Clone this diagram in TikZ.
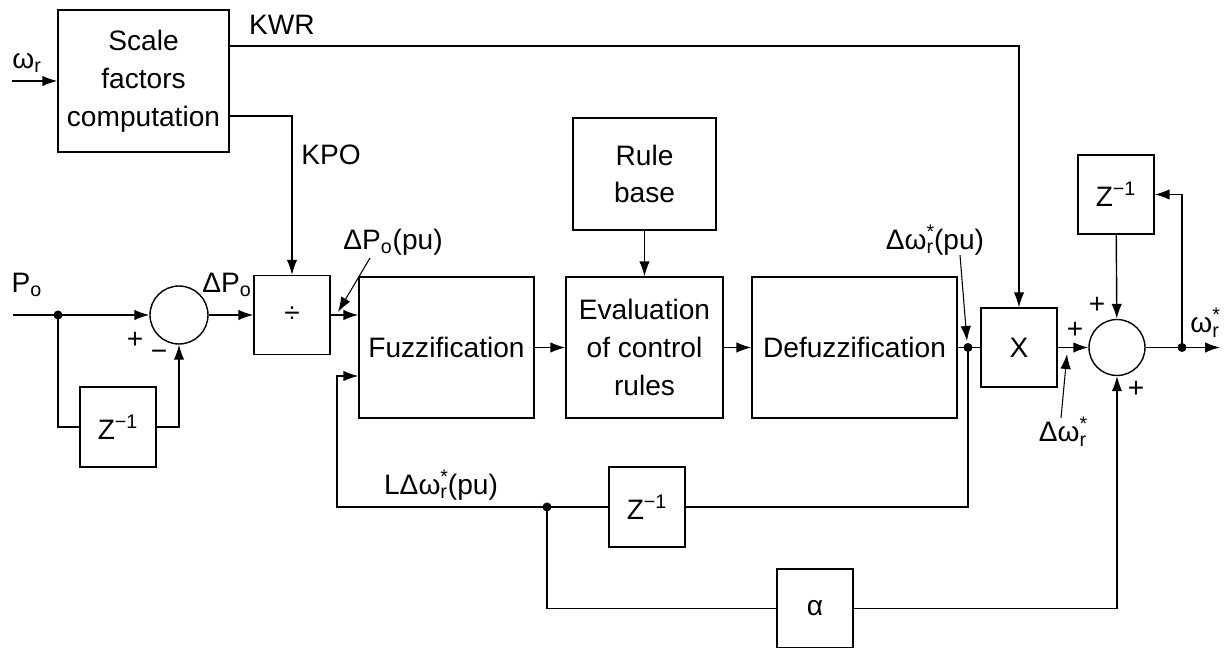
\documentclass[tikz,border=0pt]{standalone}
\usepackage{fontspec}
\setmainfont{Liberation Sans}
\usetikzlibrary{arrows.meta}
\newcommand{\omr}{ω\textsubscript{r}}
\newcommand{\omrs}{ω\rlap{\textsuperscript{*}}\textsubscript{r}}
\newcommand{\zinv}{Z\textsuperscript{−1}}
\tikzset{
  blk/.style={draw,line width=0.8pt,align=center,inner sep=0pt},
  sumc/.style={draw,circle,line width=0.8pt,inner sep=0pt},
  lbl/.style={inner sep=0pt},
}

\begin{document}
\begin{tikzpicture}[x=0.02cm,y=-0.02cm,line width=0.8pt,>={Latex[length=3mm,width=2.1mm]},font=\fontsize{16}{21.5}\selectfont]
  \useasboundingbox (0,0) rectangle (1225,648);
  % ---- blocks ----
  \node[blk,minimum width=3.42cm,minimum height=2.84cm] (scale) at (143.5,81) {Scale\\factors\\computation};
  \node[sumc,minimum size=1.16cm] (sum1) at (179,315) {};
  \node[blk,minimum width=1.52cm,minimum height=1.6cm] (zl) at (118,427) {\zinv};
  \node[blk,minimum width=1.52cm,minimum height=1.58cm] (div) at (292,315) {÷};
  \node[blk,minimum width=3.5cm,minimum height=2.82cm] (fuzz) at (446.5,347.5) {Fuzzification};
  \node[blk,minimum width=2.86cm,minimum height=2.24cm] (rule) at (644.5,174) {Rule\\base};
  \node[blk,minimum width=3.14cm,minimum height=2.82cm] (eval) at (644.5,347.5) {Evaluation\\of control\\rules};
  \node[blk,minimum width=4.1cm,minimum height=2.82cm] (defuzz) at (854.5,347.5) {Defuzzification};
  \node[blk,minimum width=1.52cm,minimum height=1.58cm] (mult) at (1019,347.5) {X};
  \node[sumc,minimum size=1.12cm] (sum2) at (1117,347.5) {};
  \node[blk,minimum width=1.52cm,minimum height=1.58cm] (zr) at (1116,194.5) {\zinv};
  \node[blk,minimum width=1.52cm,minimum height=1.6cm] (zb) at (647,507) {\zinv};
  \node[blk,minimum width=1.52cm,minimum height=1.58cm] (alpha) at (815,608.5) {α};

  % ---- points ----
  \coordinate (win) at (12,81);
  \coordinate (kwr) at (229,46);
  \coordinate (kpo) at (229,116);
  \coordinate (pin) at (13,315);
  \coordinate (j1) at (58,315);
  \coordinate (j2) at (968,347.5);
  \coordinate (j3) at (1182,347.5);
  \coordinate (out) at (1220,347.5);
  \coordinate (j4) at (547,507);
  \coordinate (fb) at (337,507);

  % ---- scale factors ----
  \draw[->] (win) -- (scale.west);
  \draw[->] (kwr) -| (mult.north);
  \draw[->] (kpo) -| (div.north);

  % ---- input side ----
  \draw (pin) -- (j1);
  \draw[->] (j1) -- (sum1.west);
  \draw (j1) |- (zl.west);
  \draw[->] (zl.east) -| (sum1.south);
  \draw[->] (sum1.east) -- (div.west);
  \draw[->] (div.east) -- (fuzz.west |- div.east);

  % ---- fuzzy controller ----
  \draw[->] (fuzz) -- (eval);
  \draw[->] (rule) -- (eval);
  \draw[->] (eval) -- (defuzz);
  \draw (defuzz) -- (j2) -- (mult);

  % ---- output side ----
  \draw[->] (mult) -- (sum2);
  \draw (sum2) -- (j3);
  \draw[->] (j3) -- (out);
  \draw[->] (j3) |- (zr.east);
  \draw[->] (zr) -- (sum2);

  % ---- feedback loops ----
  \draw (j2) |- (zb.east);
  \draw (zb.west) -- (j4);
  \draw[->] (j4) -- (fb) |- ([yshift=-0.57cm]fuzz.west);
  \draw (j4) |- (alpha.west);
  \draw[->] (alpha.east) -| (sum2.south);

  \foreach \p in {j1,j2,j3,j4}{
    \fill (\p) circle (4.5);
  }

  % ---- labels ----
  \node[lbl] (lwr) at (27,63) {\omr};
  \node[lbl] (lkwr) at (282,25) {KWR};
  \node[lbl] (lkpo) at (331,155) {KPO};
  \node[lbl] (lpo) at (27,285) {P\textsubscript{o}};
  \node[lbl] (ldpo) at (227,285) {ΔP\textsubscript{o}};
  \node[lbl] (ldpopu) at (393,242) {ΔP\textsubscript{o}(pu)};
  \node[lbl] (ldw) at (935,240) {Δ\omrs(pu)};
  \node[lbl] (ldwo) at (1063,432) {Δ\omrs};
  \node[lbl] (lwout) at (1205,323) {\omrs};
  \node[lbl] (lldw) at (441,485) {LΔ\omrs(pu)};
  \node[lbl] (sp1) at (135,340) {+};
  \node[lbl] (sm1) at (159,355) {−};
  \node[lbl] (sp2) at (1097,305) {+};
  \node[lbl] (sp3) at (1075,330) {+};
  \node[lbl] (sp4) at (1136,389) {+};

  % pointers
  \coordinate (p1) at (370,258);
  \coordinate (p2) at (338,312);
  \coordinate (p3) at (960,255);
  \coordinate (p4) at (967,341);
  \coordinate (p5) at (1061,418);
  \coordinate (p6) at (1067,354);
  \draw[->,line width=0.6pt] (p1) -- (p2);
  \draw[->,line width=0.6pt] (p3) -- (p4);
  \draw[->,line width=0.6pt] (p5) -- (p6);
\end{tikzpicture}
\end{document}
